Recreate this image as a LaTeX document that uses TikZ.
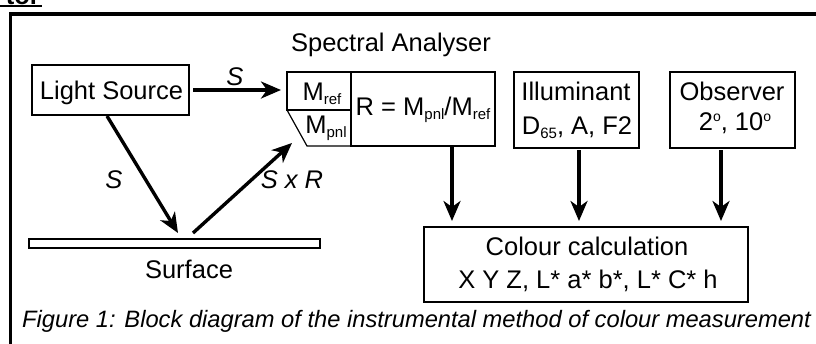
\documentclass[tikz,border=0pt]{standalone}
\usepackage{fontspec}
\setmainfont{Liberation Sans}
\usetikzlibrary{arrows.meta}
\newcommand{\msub}[1]{\raisebox{-4pt}{\fontsize{15}{15}\selectfont #1}}
\newcommand{\msup}[1]{\raisebox{9pt}{\fontsize{14}{14}\selectfont #1}}
\begin{document}
\begin{tikzpicture}[x=1pt,y=-1pt,
  font=\fontsize{25.5}{33}\selectfont,
  box/.style={draw, line width=1.2pt, inner sep=0pt, outer sep=0pt},
  txt/.style={anchor=base, inner sep=0pt},
  arr/.style={line width=3.4pt, -{Stealth[length=20pt,width=17pt,inset=6pt]}}]
\useasboundingbox (0,0) rectangle (816,343);
% heading fragment and frame
\node[anchor=base east, inner sep=0pt, font=\bfseries\fontsize{25.5}{30}\selectfont] (hd) at (40,4) {tor};
\draw[line width=2pt] (0,6) -- (42,6);
\draw[line width=3.2pt] (10.5,350) -- (10.5,14) -- (830,14);
% boxes
\node[box, minimum width=157pt, minimum height=50pt] (ls) at (110.5,90) {};
\node[txt] (lst) at (111.5,99) {Light Source};
\node[txt] (sat) at (391,51) {Spectral Analyser};
\node[box, minimum width=64pt, minimum height=38pt] (mref) at (319,91) {};
\node[box, minimum width=144pt, minimum height=74pt] (rbox) at (423,109) {};
\coordinate (tz) at (307,146);
\draw[line width=1.2pt] (mref.south west) -- (tz) -- (rbox.south west);
\node[txt] (mreft) at (322,100) {M\msub{ref}};
\node[txt] (mpnlt) at (326,133) {M\msub{pnl}};
\node[txt] (rt) at (423,115) {R = M\msub{pnl}/M\msub{ref}};
\node[box, minimum width=125pt, minimum height=76pt] (ill) at (576.5,110) {};
\node[txt] (ill1) at (576,100) {Illuminant};
\node[txt] (ill2) at (577,134) {D\msub{65}, A, F2};
\node[box, minimum width=125pt, minimum height=76pt] (obs) at (732.5,110) {};
\node[txt] (obs1) at (732,100) {Observer};
\node[txt] (obs2) at (735,130) {2\msup{o}, 10\msup{o}};
\node[box, minimum width=324pt, minimum height=75pt] (cc) at (586,264.5) {};
\node[txt] (cc1) at (587,255) {Colour calculation};
\node[txt] (cc2) at (588,288) {X Y Z, L* a* b*, L* C* h};
\node[box, minimum width=291pt, minimum height=9pt] (surf) at (174.5,243.5) {};
\node[txt] (surft) at (189,278) {Surface};
% connectors
\draw[arr, shorten <=4pt, shorten >=6pt] (ls.east) -- (ls.east -| mref.west);
\node[txt, font=\itshape\fontsize{25.5}{33}\selectfont] (s1) at (235,85) {S};
\coordinate (inA) at (107,116);
\coordinate (hitA) at (178,233);
\draw[arr] (inA) -- (hitA);
\node[txt, font=\itshape\fontsize{25.5}{33}\selectfont] (s2) at (114,188) {S};
\coordinate (outB) at (193,233);
\coordinate (inB) at (292,143);
\draw[arr] (outB) -- (inB);
\node[txt, font=\itshape\fontsize{25.5}{33}\selectfont] (s3) at (292,188) {S x R};
\draw[arr, shorten >=6pt] ([xshift=29pt]rbox.south) -- ([xshift=29pt]rbox.south |- cc.north);
\draw[arr, shorten <=2pt, shorten >=6pt] ([xshift=2.5pt]ill.south) -- ([xshift=2.5pt]ill.south |- cc.north);
\draw[arr, shorten <=2pt, shorten >=6pt] ([xshift=-11.5pt]obs.south) -- ([xshift=-11.5pt]obs.south |- cc.north);
% caption
\node[anchor=base west, inner sep=0pt, font=\itshape\fontsize{23.7}{28}\selectfont] (cap) at (22,327) {Figure 1: Block diagram of the instrumental method of colour measurement};
\end{tikzpicture}
\end{document}
